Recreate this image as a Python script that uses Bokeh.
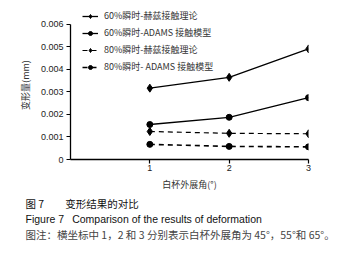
from bokeh.plotting import figure
from bokeh.models import FixedTicker, CustomJSTickFormatter, Title, Legend, LegendItem
from bokeh.embed import file_html
from bokeh.resources import INLINE

x = [1, 2, 3]
hertz60 = [0.00316, 0.00364, 0.00490]
adams60 = [0.00155, 0.00187, 0.00274]
hertz80 = [0.00124, 0.00116, 0.00114]
adams80 = [0.00067, 0.00058, 0.00056]
names = ["60%瞬时-赫兹接触理论", "60%瞬时-ADAMS 接触模型",
         "80%瞬时-赫兹接触理论", "80%瞬时- ADAMS 接触模型"]
yticks = [0, 0.001, 0.002, 0.003, 0.004, 0.005, 0.006]
xticks = [1, 2, 3]

CJK = "Noto Sans CJK SC"
LAT = "Liberation Sans"

p = figure(width=350, height=256, output_backend="svg", toolbar_location=None,
           x_range=(0, 3), y_range=(0, 0.0066),
           min_border_left=70, min_border_right=42, min_border_top=10, min_border_bottom=97)
p.grid.visible = False
p.outline_line_color = None
p.background_fill_color = "white"

for ax in (p.xaxis, p.yaxis):
    ax.axis_line_color = "black"
    ax.axis_line_width = 1.3
    ax.major_tick_line_color = "black"
    ax.major_tick_line_width = 1.2
    ax.major_tick_in = 0
    ax.major_tick_out = 4
    ax.minor_tick_line_color = None
    ax.major_label_text_font = LAT
    ax.major_label_text_font_size = "9px"
    ax.major_label_text_color = "#222222"
    ax.axis_label_text_font = CJK
    ax.axis_label_text_font_size = "9px"
    ax.axis_label_text_font_style = "normal"
    ax.axis_label_text_color = "#333333"

p.yaxis.ticker = FixedTicker(ticks=yticks)
p.yaxis.bounds = (0, 0.006)
p.yaxis.formatter = CustomJSTickFormatter(code="return tick == 0 ? '0' : tick.toFixed(3);")
p.yaxis.major_label_standoff = 3
p.yaxis.axis_label = "变形量(mm)"
p.yaxis.axis_label_standoff = 6
p.xaxis.ticker = FixedTicker(ticks=xticks)
p.xaxis.major_label_standoff = 1
p.xaxis.axis_label = "白杯外展角(°)"
p.xaxis.axis_label_standoff = 4

r1l = p.line(x, hertz60, line_color="black", line_width=1.3)
r1m = p.scatter(x, hertz60, marker="diamond", size=8, color="black")
r2l = p.line(x, adams60, line_color="black", line_width=1.3)
r2m = p.scatter(x, adams60, marker="circle", size=6, color="black")
r3l = p.line(x, hertz80, line_color="black", line_width=1.2, line_dash="5 4")
r3m = p.scatter(x, hertz80, marker="diamond", size=8, color="black")
r4l = p.line(x, adams80, line_color="black", line_width=1.6, line_dash="5 4")
r4m = p.scatter(x, adams80, marker="circle", size=6, color="black")

legend = Legend(items=[LegendItem(label=names[0], renderers=[r1l, r1m]),
                       LegendItem(label=names[1], renderers=[r2l, r2m]),
                       LegendItem(label=names[2], renderers=[r3l, r3m]),
                       LegendItem(label=names[3], renderers=[r4l, r4m])],
                location=(12, 86), background_fill_alpha=0, border_line_color=None,
                label_text_font=CJK, label_text_font_size="9px", label_text_color="#333333",
                glyph_width=16, glyph_height=10, spacing=4, padding=0, margin=0,
                label_standoff=6, label_height=10)
p.add_layout(legend, "center")

captions = [
    ("图 7\u2003\u2003变形结果的对比", CJK, "#111111"),
    ("Figure 7\u2002 Comparison of the results of deformation", LAT, "#111111"),
    ("图注：横坐标中 1，2 和 3 分别表示白杯外展角为 45°，55°和 65°。", CJK, "#444444"),
]
for txt, fnt, col in captions:
    p.add_layout(Title(text=txt, align="left", offset=-45, standoff=0,
                       text_font=fnt, text_font_size="10.5px", text_color=col,
                       text_font_style="normal", text_line_height=1.0), "below")

open("out.html", "w").write(file_html(p, INLINE))
